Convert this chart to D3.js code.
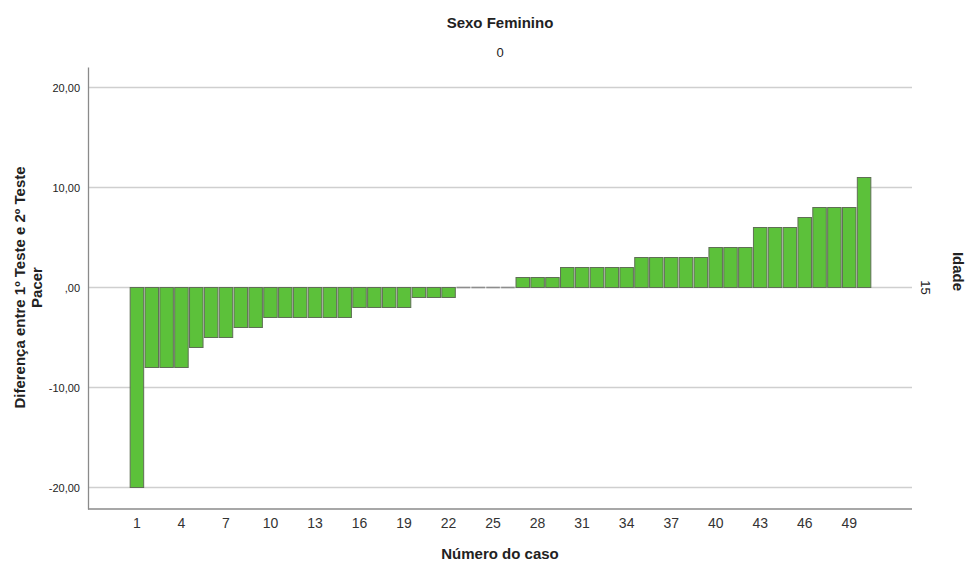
<!DOCTYPE html>
<html>
<head>
<meta charset="utf-8">
<script src="https://cdn.jsdelivr.net/npm/d3@7"></script>
<style>
  body { margin: 0; background: #fff; }
  text { font-family: "Liberation Sans", Arial, sans-serif; fill: #222; }
</style>
</head>
<body>
<svg id="chart" width="968" height="566"></svg>
<script>
// ##### Data
// Case numbers (1..50) and the difference between the two Pacer tests
var cases = d3.range(1, 51);
var differences = [
  -20, -8, -8, -8, -6, -5, -5, -4, -4, -3,
  -3, -3, -3, -3, -3, -2, -2, -2, -2, -1,
  -1, -1, 0, 0, 0, 0, 1, 1, 1, 2,
  2, 2, 2, 2, 3, 3, 3, 3, 3, 4,
  4, 4, 6, 6, 6, 7, 8, 8, 8, 11
];
var xTickCases = [1, 4, 7, 10, 13, 16, 19, 22, 25, 28, 31, 34, 37, 40, 43, 46, 49];
var yTickValues = [-20, -10, 0, 10, 20];

var rows = cases.map(function(c, i) { return {caseNo: c, value: differences[i]}; });

// ##### Layout
var svg = d3.select('#chart');
var plotLeft = 88, plotRight = 912, plotTop = 67, plotBottom = 509;

var x = d3.scaleBand()
  .domain(cases)
  .range([129.5, 871.5])
  .paddingInner(0.09)
  .paddingOuter(0.045);

var y = d3.scaleLinear()
  .domain([-22.15, 22.05])
  .range([plotBottom, plotTop]);

// Format like "20,00" / ",00" / "-10,00"
function fmt(v) {
  if (v === 0) return ',00';
  return (v < 0 ? '-' : '') + Math.abs(v).toFixed(2).replace('.', ',');
}

// ##### Gridlines
svg.append('g')
  .selectAll('line')
  .data(yTickValues)
  .enter()
  .append('line')
  .attr('x1', plotLeft)
  .attr('x2', plotRight)
  .attr('y1', function(d) { return y(d); })
  .attr('y2', function(d) { return y(d); })
  .style('stroke', '#cfcfcf')
  .attr('stroke-width', 1.3);

// ##### Bars
svg.append('g')
  .selectAll('rect')
  .data(rows.filter(function(d) { return d.value !== 0; }))
  .enter()
  .append('rect')
  .attr('x', function(d) { return x(d.caseNo); })
  .attr('width', x.bandwidth())
  .attr('y', function(d) { return y(Math.max(0, d.value)); })
  .attr('height', function(d) { return Math.abs(y(d.value) - y(0)); })
  .attr('fill', '#5cc13a')
  .style('stroke', '#5f6f55')
  .attr('stroke-width', 1);

// Zero-valued cases are only a flat outline on the zero line
svg.append('g')
  .selectAll('line')
  .data(rows.filter(function(d) { return d.value === 0; }))
  .enter()
  .append('line')
  .attr('x1', function(d) { return x(d.caseNo); })
  .attr('x2', function(d) { return x(d.caseNo) + x.bandwidth(); })
  .attr('y1', y(0))
  .attr('y2', y(0))
  .style('stroke', '#8d8d8d')
  .attr('stroke-width', 1.5);

// ##### Axes
var yAxis = d3.axisLeft(y)
  .tickValues(yTickValues)
  .tickFormat(fmt)
  .tickSize(0)
  .tickPadding(8);

var gy = svg.append('g')
  .attr('transform', 'translate(' + plotLeft + ',0)')
  .call(yAxis);
gy.select('.domain').attr('stroke', '#8a8a8a').attr('stroke-width', 1.3);
gy.selectAll('text').style('font-size', '11px').style('fill', '#222');

var xAxis = d3.axisBottom(x)
  .tickValues(xTickCases)
  .tickSize(0)
  .tickPadding(9);

var gx = svg.append('g')
  .attr('transform', 'translate(0,' + plotBottom + ')')
  .call(xAxis);
gx.select('.domain').remove();
gx.append('line')
  .attr('x1', plotLeft)
  .attr('x2', plotRight)
  .attr('stroke', '#8a8a8a')
  .attr('stroke-width', 1.3);
gx.selectAll('text').style('font-size', '14px').style('fill', '#333');

// ##### Titles
svg.append('text')
  .attr('x', 500).attr('y', 28)
  .attr('text-anchor', 'middle')
  .style('font-size', '15px').style('font-weight', 'bold')
  .text('Sexo Feminino');

svg.append('text')
  .attr('x', 500).attr('y', 57)
  .attr('text-anchor', 'middle')
  .style('font-size', '13px')
  .text('0');

svg.append('text')
  .attr('x', 500).attr('y', 559)
  .attr('text-anchor', 'middle')
  .style('font-size', '15px').style('font-weight', 'bold')
  .text('Número do caso');

// Y axis title on two lines
var yTitle = svg.append('text')
  .attr('transform', 'translate(25,' + y(0) + ') rotate(-90)')
  .attr('text-anchor', 'middle')
  .style('font-size', '15px').style('font-weight', 'bold');
yTitle.append('tspan').attr('x', 0).attr('dy', 0).text('Diferença entre 1º Teste e 2º Teste');
yTitle.append('tspan').attr('x', 0).attr('dy', 17).text('Pacer');

// Right side panel label
svg.append('text')
  .attr('transform', 'translate(921,' + y(0) + ') rotate(90)')
  .attr('text-anchor', 'middle')
  .style('font-size', '13px')
  .text('15');

svg.append('text')
  .attr('transform', 'translate(953,' + (y(0) - 16) + ') rotate(90)')
  .attr('text-anchor', 'middle')
  .style('font-size', '15px').style('font-weight', 'bold')
  .text('Idade');
</script>
</body>
</html>
